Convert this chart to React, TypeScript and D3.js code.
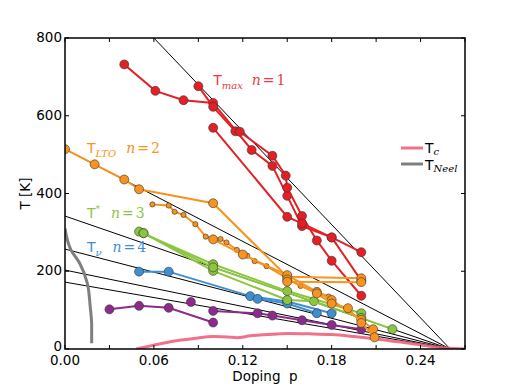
import React from 'react';
import * as d3 from 'd3';

// [doping p, T (K)]
const tmaxA = [[0.04, 732], [0.061, 664], [0.08, 640], [0.1, 633], [0.126, 512], [0.14, 471], [0.15, 394], [0.16, 316], [0.18, 287], [0.2, 176]];
const tmaxB = [[0.09, 676], [0.1, 623], [0.115, 560], [0.118, 559], [0.14, 497], [0.149, 446], [0.15, 415], [0.16, 342], [0.17, 279], [0.18, 227], [0.2, 137]];
const tmaxC = [[0.1, 569], [0.15, 340], [0.16, 323], [0.18, 287], [0.2, 249]];

const tltoA = [[0, 514], [0.02, 475], [0.04, 436], [0.05, 411], [0.1, 375], [0.15, 186], [0.2, 182]];
const tltoSmall = [[0.059, 372], [0.07, 369], [0.074, 353], [0.08, 345], [0.088, 321], [0.095, 289], [0.105, 283], [0.109, 274], [0.116, 255], [0.123, 240], [0.128, 226], [0.136, 213], [0.159, 162], [0.178, 135]];
const tltoB = [[0.1, 282], [0.12, 243], [0.15, 190], [0.17, 147], [0.18, 126], [0.2, 75], [0.208, 51]];
const tltoC = [[0.15, 179], [0.17, 143], [0.18, 117], [0.191, 105], [0.2, 67], [0.209, 30]];
const tltoD = [[0.15, 173], [0.2, 172]];

const tstarA = [[0.05, 302], [0.1, 218], [0.15, 149], [0.2, 92]];
const tstarB = [[0.053, 298], [0.1, 201], [0.15, 126], [0.168, 123], [0.221, 51]];
const tstarC = [[0.053, 298], [0.1, 210], [0.2, 80]];

const tnuA = [[0.05, 199], [0.07, 199], [0.125, 136], [0.15, 122], [0.18, 92]];
const tnuB = [[0.13, 129], [0.15, 117], [0.17, 92]];

const purpleA = [[0.03, 102], [0.05, 111], [0.07, 106], [0.1, 68]];
const purpleB = [[0.1, 98], [0.13, 92], [0.14, 86], [0.16, 74], [0.18, 62], [0.2, 51]];
const purpleSingle = [[0.085, 121]];

const tc = [[0.048, 0], [0.06, 10], [0.073, 20], [0.087, 27], [0.1, 32], [0.11, 31], [0.116, 29], [0.125, 34], [0.14, 38], [0.15, 40], [0.165, 39], [0.18, 37], [0.195, 32], [0.21, 26], [0.23, 16], [0.245, 8], [0.26, 2], [0.27, 0]];
const tneel = [[0, 310], [0.004, 255], [0.01, 220], [0.015, 170], [0.017, 110], [0.018, 60], [0.018, 15]];

// straight guide lines: T at p=0, all reaching zero at pc
const guideIntercepts = [1040, 514, 342, 257, 203, 172];
const pc = 0.26;

const xTicks = [0, 0.03, 0.06, 0.09, 0.12, 0.15, 0.18, 0.21, 0.24, 0.27];
const xTickLabels = [0, 0.06, 0.12, 0.18, 0.24];
const yTicks = [0, 200, 400, 600, 800];

const RED = '#e41f26';
const ORANGE = '#f7931e';
const GREEN = '#8cc63f';
const BLUE = '#3d8fd1';
const PURPLE = '#8e2a8e';

const series = [
  { data: tmaxA, color: RED, r: 4.5 },
  { data: tmaxB, color: RED, r: 4.5 },
  { data: tmaxC, color: RED, r: 4.5 },
  { data: purpleA, color: PURPLE, r: 4.5 },
  { data: purpleB, color: PURPLE, r: 4.5 },
  { data: purpleSingle, color: PURPLE, r: 4.5 },
  { data: tnuA, color: BLUE, r: 4.5 },
  { data: tnuB, color: BLUE, r: 4.5 },
  { data: tstarA, color: GREEN, r: 4.5 },
  { data: tstarB, color: GREEN, r: 4.5 },
  { data: tstarC, color: GREEN, r: 4.5 },
  { data: tltoSmall, color: ORANGE, r: 2.6 },
  { data: tltoA, color: ORANGE, r: 4.5 },
  { data: tltoB, color: ORANGE, r: 4.5 },
  { data: tltoC, color: ORANGE, r: 4.5 },
  { data: tltoD, color: ORANGE, r: 4.5 },
];

const W = 518, H = 388;
const margin = { left: 65, right: 53, top: 38, bottom: 39 };

export default function App() {
  const x = d3.scaleLinear().domain([0, 0.27]).range([margin.left, W - margin.right]);
  const y = d3.scaleLinear().domain([0, 800]).range([H - margin.bottom, margin.top]);
  const line = d3.line<number[]>().x(d => x(d[0])).y(d => y(d[1]));
  const smooth = d3.line<number[]>().x(d => x(d[0])).y(d => y(d[1])).curve(d3.curveMonotoneX);
  const neelLine = d3.line<number[]>().x(d => x(d[0])).y(d => y(d[1])).curve(d3.curveMonotoneY);
  const [x0, x1] = x.range();
  const [y0, y1] = y.range();
  const serif = 'DejaVu Serif, serif';
  const sans = 'DejaVu Sans, sans-serif';

  // "T_sub   n = k" annotation
  const label = (px: number, py: number, color: string, sub: string, gap: number, k: number, sup = false) => (
    <text x={px} y={py} fill={color} fontFamily={sans}>T
      <tspan fontFamily={serif} fontStyle={sup ? 'normal' : 'italic'} fontSize={sup ? 9 : 10} dy={sup ? -6 : 4}>{sub}</tspan>
      <tspan fontFamily={serif} fontStyle="italic" dy={sup ? 6 : -4} dx={gap}>n</tspan>
      <tspan fontFamily={serif} dx={2}>=</tspan>
      <tspan fontFamily={serif} dx={2}>{k}</tspan>
    </text>
  );

  return (
    <svg width={W} height={H} style={{ position: 'absolute', left: 0, top: 0, background: '#fff' }}>
      <defs>
        <clipPath id="plot">
          <rect x={x0} y={y1} width={x1 - x0} height={y0 - y1} />
        </clipPath>
      </defs>
      <g clipPath="url(#plot)">
        {guideIntercepts.map((t0, i) => (
          <path key={i} d={line([[0, t0], [pc, 0]])!} stroke="#000" strokeWidth={1} fill="none" />
        ))}
        <path d={smooth(tc)!} stroke="#f0627c" strokeOpacity={0.9} strokeWidth={3} fill="none" />
        <path d={neelLine(tneel)!} stroke="#7f7f7f" strokeWidth={3} fill="none" />
        {series.map((s, i) => (
          <g key={i}>
            <path d={line(s.data)!} stroke={s.color} strokeWidth={2} fill="none" />
            {s.data.map((d, j) => (
              <circle key={j} cx={x(d[0])} cy={y(d[1])} r={s.r} fill={s.color} stroke="#333" strokeWidth={0.6} />
            ))}
          </g>
        ))}
      </g>

      {/* annotations */}
      <g fontSize={14}>
        {label(x(0.1), y(679), '#ee3a43', 'max', 9, 1)}
        {label(x(0.0148), y(503), ORANGE, 'LTO', 10, 2)}
        {label(x(0.0148), y(337), GREEN, '*', 11, 3, true)}
        {label(x(0.0148), y(250), BLUE, 'ν', 11, 4)}
      </g>

      {/* legend */}
      <g>
        <line x1={401} x2={423} y1={148} y2={148} stroke="#f0627c" strokeOpacity={0.9} strokeWidth={3} />
        <line x1={401} x2={423} y1={164} y2={164} stroke="#7f7f7f" strokeWidth={3} />
        <text x={425} y={153} fontSize={14} fontFamily={sans}>T
          <tspan fontFamily={serif} fontStyle="italic" fontSize={10} dy={2}>c</tspan>
        </text>
        <text x={425} y={170} fontSize={14} fontFamily={sans}>T
          <tspan fontFamily={serif} fontStyle="italic" fontSize={10} dy={2}>Neel</tspan>
        </text>
      </g>

      {/* frame and ticks */}
      <rect x={x0} y={y1} width={x1 - x0} height={y0 - y1} fill="none" stroke="#000" strokeWidth={1.5} />
      {xTicks.map(t => (
        <g key={t}>
          <line x1={x(t)} x2={x(t)} y1={y0} y2={y0 - 4} stroke="#000" />
          <line x1={x(t)} x2={x(t)} y1={y1} y2={y1 + 4} stroke="#000" />
        </g>
      ))}
      {yTicks.map(t => (
        <g key={t}>
          <line x1={x0} x2={x0 + 4} y1={y(t)} y2={y(t)} stroke="#000" />
          <line x1={x1} x2={x1 - 4} y1={y(t)} y2={y(t)} stroke="#000" />
          <text x={x0 - 3} y={y(t) + (t === 0 ? 2 : 4)} textAnchor="end" fontSize={13.5} fontFamily={sans}>{t}</text>
        </g>
      ))}
      {xTickLabels.map(t => (
        <text key={t} x={x(t)} y={y0 + 16} textAnchor="middle" fontSize={13.5} fontFamily={sans}>{d3.format('.2f')(t)}</text>
      ))}
      <text x={(x0 + x1) / 2} y={381} textAnchor="middle" fontSize={13.5} fontFamily={sans} style={{ whiteSpace: 'pre' }}>{'Doping  p'}</text>
      <text transform={`translate(30,${(y0 + y1) / 2}) rotate(-90)`} textAnchor="middle" fontSize={13.5} fontFamily={sans}>T [K]</text>
    </svg>
  );
}
